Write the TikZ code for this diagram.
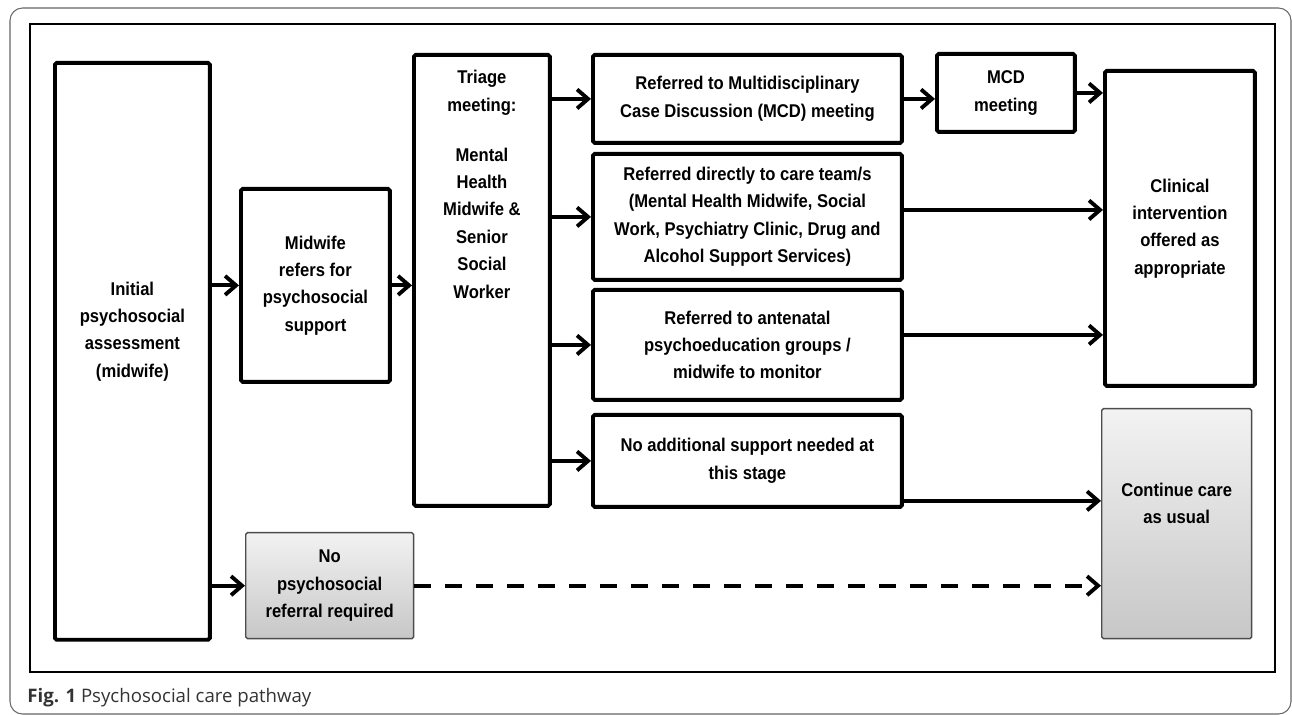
\documentclass[tikz,border=0pt]{standalone}
\usepackage{fontspec}
\setmainfont{Liberation Sans}[FakeStretch=0.9]
\newfontfamily\capfont{Open Sans}
\usetikzlibrary{arrows.meta}

\begin{document}
\begin{tikzpicture}[x=0.02cm, y=-0.02cm,
  txt/.style={inner sep=0pt, align=center, font=\bfseries\fontsize{10.5}{15.6}\selectfont},
  box/.style={txt, draw, line width=2.2pt, rounded corners=1pt, anchor=north west},
  greybox/.style={box, draw=black!70, line width=0.8pt, top color=black!5, bottom color=black!22},
  arr/.style={line width=2.2pt, -{Straight Barb[length=2.2mm, width=3.8mm]}},
  dasharr/.style={arr, dash pattern=on 0.34cm off 0.28cm}]

\useasboundingbox (0,0) rectangle (1292,715);
\draw[black!60, line width=0.6pt, rounded corners=0.25cm] (10,8) rectangle (1291,714);
\draw[line width=0.7pt] (30,24) rectangle (1275,672);

\node[box, minimum width=3.1cm, minimum height=11.54cm] (init) at (53,61) {};
\node[txt] (inittext) at ([yshift=0.4cm]init.center) {Initial\\psychosocial\\assessment\\(midwife)};
\node[box, minimum width=2.98cm, minimum height=3.86cm] (midwife) at (239,187) {Midwife\\refers for\\psychosocial\\support};
\node[greybox, minimum width=3.36cm, minimum height=2.12cm] (noref) at (245,532) {No\\psychosocial\\referral required};

\node[box, minimum width=2.72cm, minimum height=9.02cm] (triage) at (412,53) {};
\node[txt, anchor=north] (triagetext) at ([yshift=-0.34cm]triage.north)
  {Triage\\meeting:\\[0.45cm]Mental\\Health\\Midwife \&\\Senior\\Social\\Worker};

\node[box, minimum width=6.18cm, minimum height=1.76cm] (mdt) at (591,53) {Referred to Multidisciplinary\\Case Discussion (MCD) meeting};
\node[box, minimum width=6.18cm, minimum height=2.52cm] (direct) at (591,152) {Referred directly to care team/s\\(Mental Health Midwife, Social\\Work, Psychiatry Clinic, Drug and\\Alcohol Support Services)};
\node[box, minimum width=6.18cm, minimum height=2.2cm] (antenatal) at (591,288) {Referred to antenatal\\psychoeducation groups /\\midwife to monitor};
\node[box, minimum width=6.18cm, minimum height=1.84cm] (noadd) at (591,413) {No additional support needed at\\this stage};

\node[box, minimum width=2.76cm, minimum height=1.56cm] (mcd) at (935,52) {MCD\\meeting};
\node[box, minimum width=3cm, minimum height=6.3cm] (clinical) at (1103,69) {Clinical\\intervention\\offered as\\appropriate};
\node[greybox, minimum width=3cm, minimum height=4.6cm] (continue) at (1101,408) {};
\node[txt] (continuetext) at ([yshift=0.4cm]continue.center) {Continue care\\as usual};

\draw[arr] (init.east |- midwife.west) -- (midwife.west);
\draw[arr] (midwife.east) -- (midwife.east -| triage.west);
\foreach \b in {mdt,direct,antenatal,noadd}
  \draw[arr] (\b.west -| triage.east) -- (\b.west);
\draw[arr] (mdt.east) -- (mdt.east -| mcd.west);
\draw[arr] (mcd.east) -- (mcd.east -| clinical.west);
\draw[arr] ([yshift=0.14cm]direct.east) -- ([yshift=0.14cm]clinical.west |- direct.east);
\draw[arr] ([yshift=0.2cm]antenatal.east) -- ([yshift=0.2cm]clinical.west |- antenatal.east);
\draw[arr] ([yshift=0.16cm]noadd.south east) -- ([yshift=0.16cm]continue.west |- noadd.south east);
\draw[arr] (init.east |- noref.west) -- (noref.west);
\draw[dasharr] (noref.east) -- (noref.east -| continue.west);

\node[anchor=base west, inner sep=0pt, font=\capfont\fontsize{10.6}{12}\selectfont, text=black!80] (caption) at (27,703)
  {\textbf{Fig. 1} Psychosocial care pathway};
\end{tikzpicture}
\end{document}
